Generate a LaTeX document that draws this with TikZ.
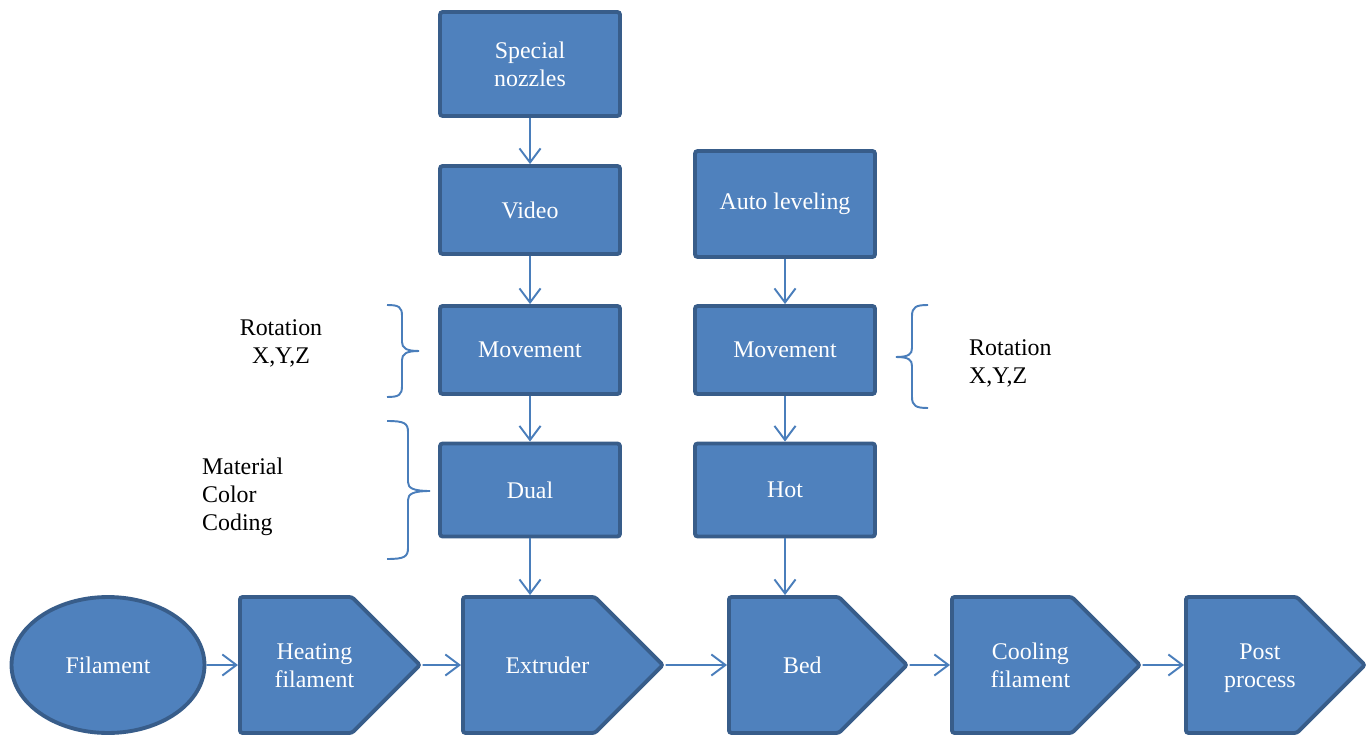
\documentclass[tikz,border=0pt]{standalone}
\usepackage{fontspec}
\setmainfont{Liberation Serif}
\usetikzlibrary{shapes.symbols,shapes.geometric,arrows.meta,positioning}
\definecolor{boxfill}{HTML}{4F81BD}
\definecolor{boxline}{HTML}{385D8A}
\definecolor{linkblue}{HTML}{4A7EBB}
\newcommand{\stagetext}[1]{\hspace*{0.37cm}\raisebox{-0.06cm}[\height][\depth]{\begin{tabular}{@{}c@{}}#1\end{tabular}}\hspace*{-0.37cm}}

\begin{document}
\begin{tikzpicture}[x=0.02cm, y=-0.02cm,
  every node/.style={font=\fontsize{13.6}{16}\selectfont},
  box/.style={draw=boxline, fill=boxfill, line width=2.2pt, rounded corners=1.5pt, text=white, align=center, minimum width=3.6cm, minimum height=1.76cm},
  stage/.style={signal, signal to=east, signal pointer angle=90, draw=boxline, fill=boxfill, line width=2.2pt, rounded corners=1.5pt, text=white, minimum height=2.72cm, anchor=west},
  link/.style={draw=linkblue, line width=1.1pt, -{Straight Barb[length=8pt,width=12pt]}},
  brace/.style={draw=linkblue, line width=1.1pt}]
                \useasboundingbox (0,0) rectangle (1368,739);

                % upper part: two columns of boxes
                \node[box, minimum height=2.08cm] (nozzle) at (530,64) {Special\\nozzles};
                \node[box] (video) at (530,210) {Video};
                \node[box] (moveL) at (530,350) {Movement};
                \node[box, minimum height=1.86cm] (dual) at (530,490) {Dual};
                \node[box, minimum height=2.12cm] (autolev) at (785,204) {Auto leveling};
                \node[box] (moveR) at (785,350) {Movement};
                \node[box, minimum height=1.86cm] (hot) at (785,490) {Hot};

                % lower part: the process line
                \node[draw=boxline, fill=boxfill, line width=2.2pt, ellipse, text=white, minimum width=3.86cm, minimum height=2.72cm] (filament) at (108,665) {Filament};
                \node[stage, minimum width=3.6cm] (heat) at (238,665) {\stagetext{Heating\\filament}};
                \node[stage, minimum width=4.0cm] (extruder) at (461,665) {\stagetext{Extruder}};
                \node[stage, minimum width=3.56cm] (bed) at (727,665) {\stagetext{Bed}};
                \node[stage, minimum width=3.76cm] (cool) at (950,665) {\stagetext{Cooling\\filament}};
                \node[stage, minimum width=3.58cm] (post) at (1184,665) {\stagetext{Post\\process}};

                % side notes
                \node[align=center] (rotL) at (281,343) {Rotation\\X,Y,Z};
                \node[align=left, anchor=west] (matL) at (196,497) {Material\\Color\\Coding};
                \node[align=left, anchor=west] (rotR) at (963,363) {Rotation\\X,Y,Z};

                \draw[brace] (387,305) .. controls (399,305) and (402,307) .. (402,316) -- (402,342) .. controls (402,348) and (406,351) .. (419,351) .. controls (406,351) and (402,354) .. (402,360) -- (402,386) .. controls (402,395) and (399,397) .. (387,397);
                \draw[brace] (387,421) .. controls (404,421) and (408,423) .. (408,432) -- (408,482) .. controls (408,488) and (413,491) .. (430,491) .. controls (413,491) and (408,494) .. (408,500) -- (408,548) .. controls (408,557) and (404,559) .. (387,559);
                \draw[brace] (928,305) .. controls (916,305) and (912,307) .. (912,316) -- (912,348) .. controls (912,354) and (909,357) .. (896,357) .. controls (909,357) and (912,360) .. (912,366) -- (912,397) .. controls (912,406) and (916,408) .. (928,408);

                \draw[link] (nozzle) -- (video);
                \draw[link] (video) -- (moveL);
                \draw[link] (moveL) -- (dual);
                \draw[link] (dual.south) -- (dual.south |- extruder.north);
                \draw[link] (autolev) -- (moveR);
                \draw[link] (moveR) -- (hot);
                \draw[link] (hot.south) -- (hot.south |- bed.north);
                \draw[link] (filament) -- (heat);
                \draw[link] (heat) -- (extruder);
                \draw[link] (extruder) -- (bed);
                \draw[link] (bed) -- (cool);
                \draw[link] (cool) -- (post);
            \end{tikzpicture}
\end{document}
